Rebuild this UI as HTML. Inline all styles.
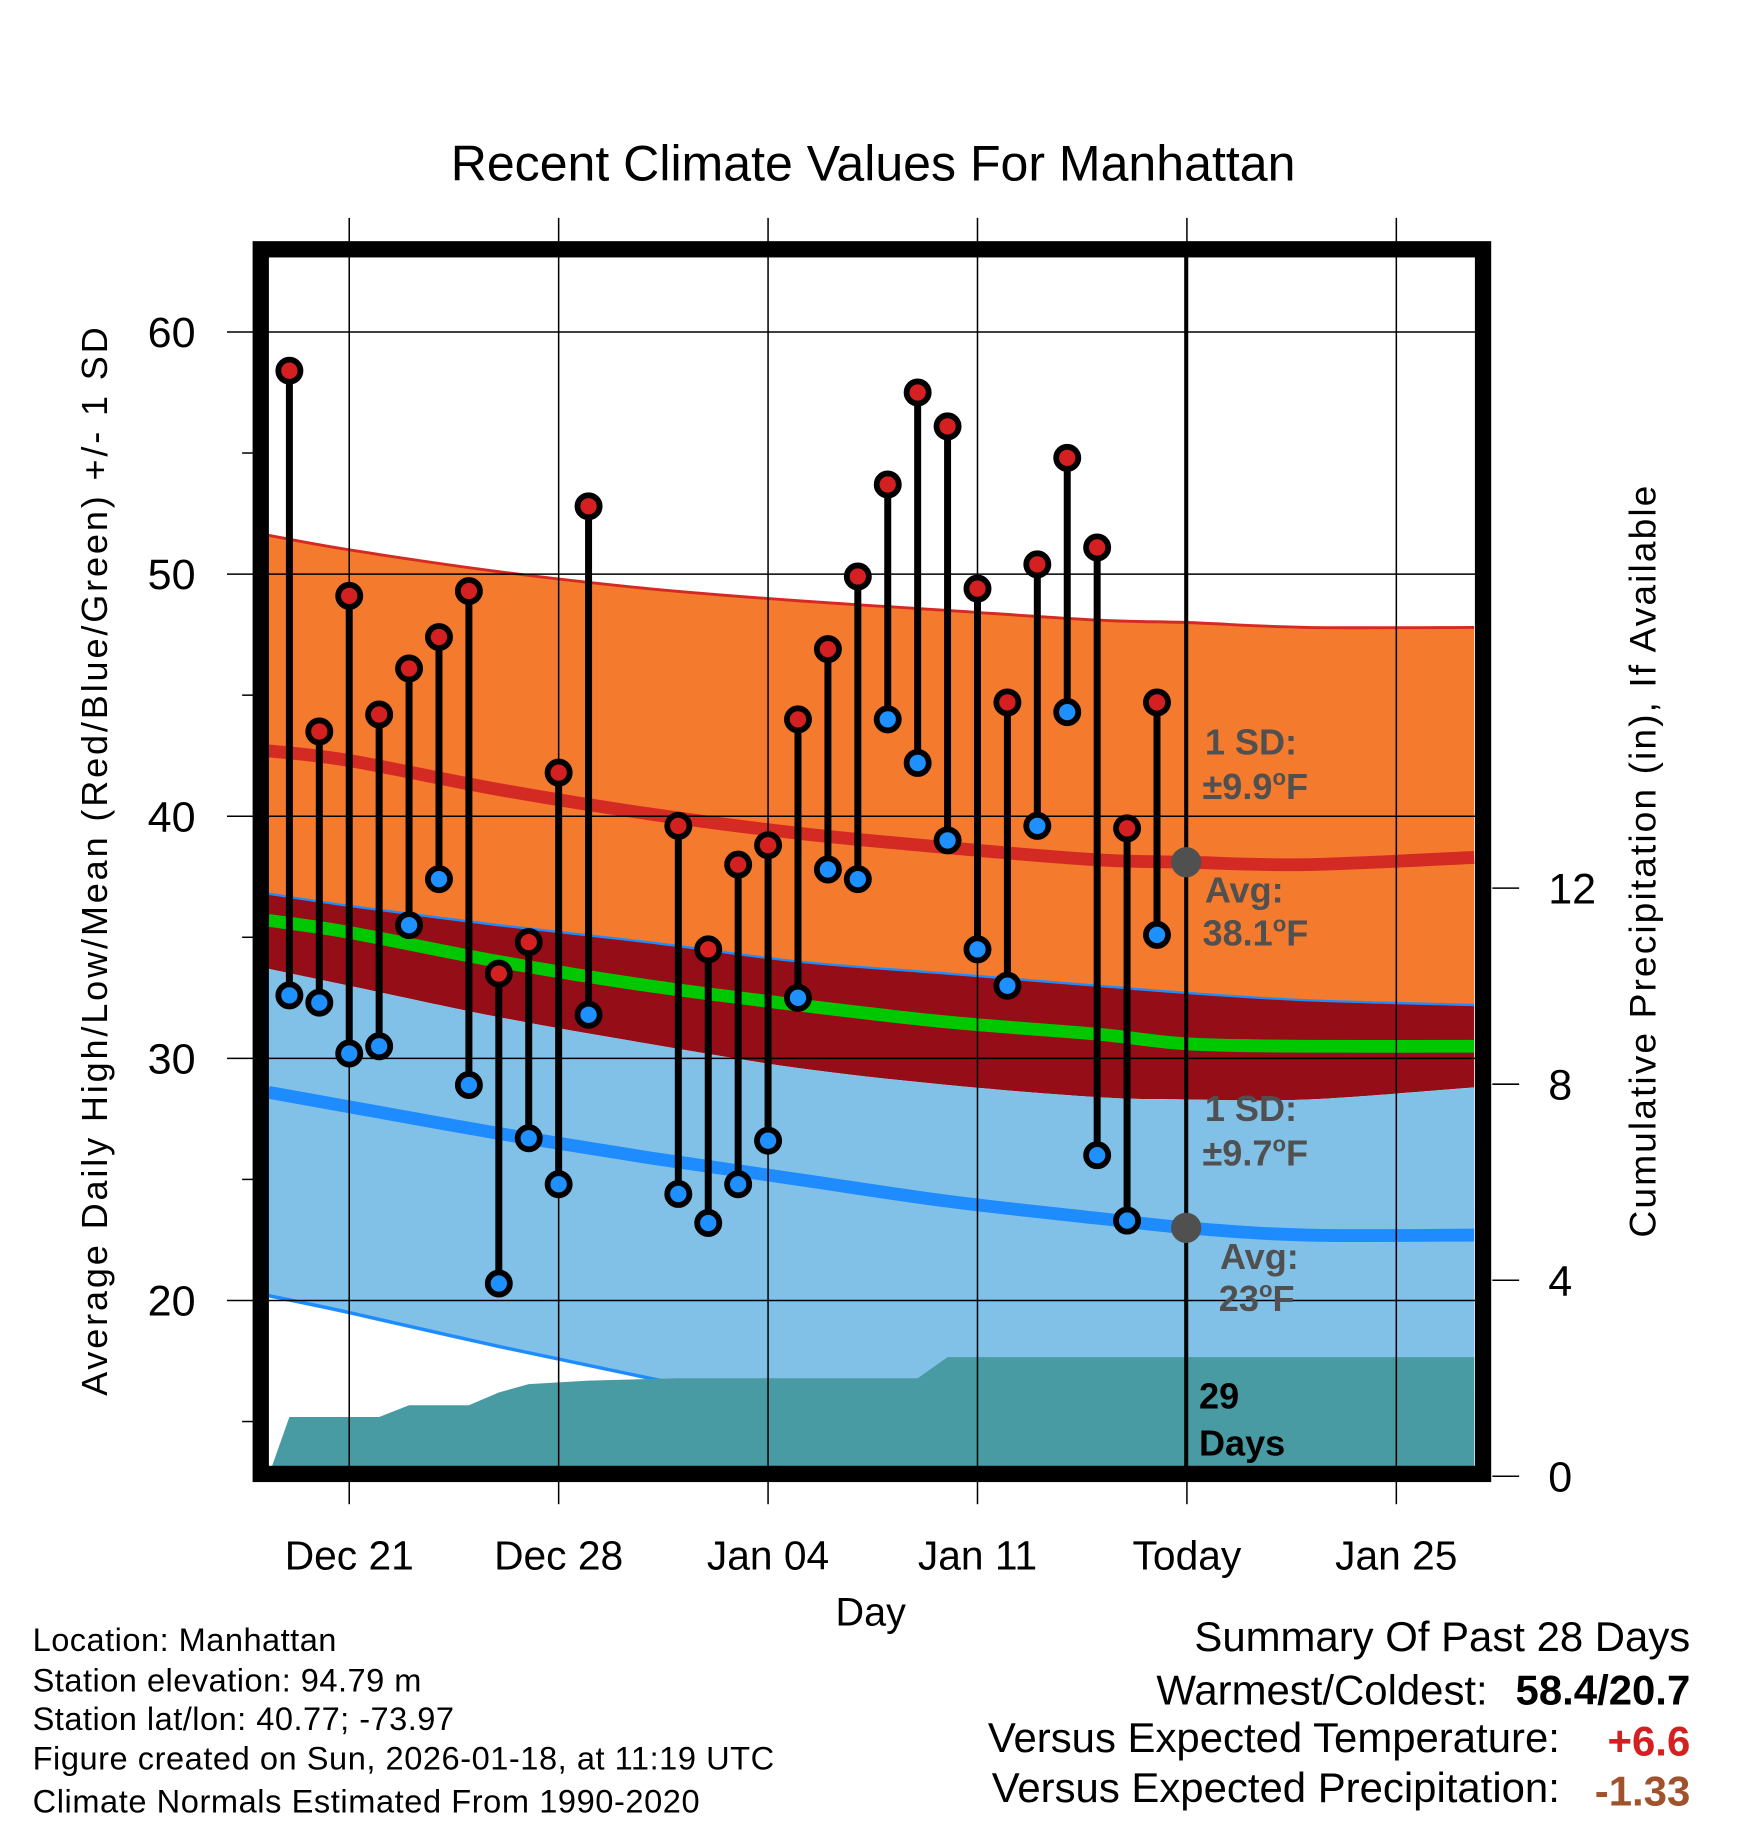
<!DOCTYPE html>
<html><head><meta charset="utf-8"><style>
html,body{margin:0;padding:0;background:#fff}
svg{display:block;font-family:"Liberation Sans",Arial,sans-serif}
</style></head><body>
<svg id="chart" width="1748" height="1828" viewBox="0 0 1501.6 1570" xmlns="http://www.w3.org/2000/svg">
<defs><clipPath id="plotclip"><rect x="230" y="220" width="1038" height="1040"/></clipPath></defs>
<g id="bands" clip-path="url(#plotclip)"></g>
<g id="axes"></g>
<g id="marks"></g>
<text x="750" y="155" font-size="43" text-anchor="middle">Recent Climate Values For Manhattan</text>
<text transform="translate(92,740) rotate(-90)" font-size="31" text-anchor="middle" textLength="918">Average Daily High/Low/Mean (Red/Blue/Green) +/- 1 SD</text>
<text transform="translate(1422,740) rotate(-90)" font-size="32" text-anchor="middle" textLength="646">Cumulative Precipitation (in), If Available</text>
<text x="748" y="1396" font-size="34" text-anchor="middle">Day</text>
<g font-size="28">
<text x="28" y="1418" textLength="261">Location: Manhattan</text>
<text x="28" y="1453" textLength="334">Station elevation: 94.79 m</text>
<text x="28" y="1486" textLength="362">Station lat/lon: 40.77; -73.97</text>
<text x="28" y="1520" textLength="637">Figure created on Sun, 2026-01-18, at 11:19 UTC</text>
<text x="28" y="1557" textLength="573">Climate Normals Estimated From 1990-2020</text>
</g>
<g font-size="36" text-anchor="end">
<text x="1452" y="1418">Summary Of Past 28 Days</text>
<text x="1278" y="1464">Warmest/Coldest:</text>
<text x="1452" y="1464" font-weight="bold">58.4/20.7</text>
<text x="1340" y="1505">Versus Expected Temperature:</text>
<text x="1452" y="1508" font-weight="bold" fill="#d42020">+6.6</text>
<text x="1340" y="1548">Versus Expected Precipitation:</text>
<text x="1452" y="1551" font-weight="bold" fill="#a0522d">-1.33</text>
</g>
</svg>
<script>
// data (day index: 0 = Dec 21)
const days=[-2,-1,0,1,2,3,4,5,6,7,8,11,12,13,14,15,16,17,18,19,20,21,22,23,24,25,26,27];
const highs=[58.4,43.5,49.1,44.2,46.1,47.4,49.3,33.5,34.8,41.8,52.8,39.6,34.5,38.0,38.8,44.0,46.9,49.9,53.7,57.5,56.1,49.4,44.7,50.4,54.8,51.1,39.5,44.7];
const lows=[32.6,32.3,30.2,30.5,35.5,37.4,28.9,20.7,26.7,24.8,31.8,24.4,23.2,24.8,26.6,32.5,37.8,37.4,44.0,42.2,39.0,34.5,33.0,39.6,44.3,26.0,23.3,35.1];
const nDays=[-2.7,0,5,10,15,20,25,28,32,37.6];
const highUpper=[51.6,51.0,50.1,49.4,48.9,48.5,48.1,48.0,47.8,47.8];
const highAvg=[42.7,42.3,41.1,40.1,39.3,38.7,38.2,38.1,38.0,38.3];
const highLower=[36.8,36.3,35.5,34.8,34.0,33.5,33.0,32.7,32.4,32.2];
const meanAvg=[35.7,35.2,34.0,33.0,32.2,31.5,31.0,30.6,30.5,30.5];
const lowUpper=[33.7,33.0,31.7,30.6,29.6,28.9,28.4,28.3,28.3,28.8];
const lowAvg=[28.6,28.0,26.9,25.9,25.0,24.1,23.4,23.0,22.7,22.7];
const lowLower=[20.2,19.5,18.1,16.8,15.5,14.5,13.8,13.3,13.0,13.0];
const precipDays=[-2.7,-2,1,2,4,5,6,8,11,19,20,37.6];
const precipVals=[0,1.21,1.21,1.45,1.45,1.71,1.88,1.95,2.0,2.0,2.43,2.43];
const yTicks=[20,30,40,50,60];
const y2Ticks=[0,4,8,12];
const xTickDays=[0,7,14,21,28,35];
const xTickLabels=["Dec 21","Dec 28","Jan 04","Jan 11","Today","Jan 25"];

const X=d=>300+d*25.7;
const Y=v=>285+(60-v)*20.8;
const Y2=p=>1268-p*42.1;
const NS="http://www.w3.org/2000/svg";
function mk(parent,tag,attrs,name){const e=document.createElementNS(NS,tag);for(const k in attrs)e.setAttribute(k,attrs[k]);


parent.appendChild(e);return e;}
const bands=document.getElementById('bands'),axes=document.getElementById('axes'),marks=document.getElementById('marks');
function smooth(arr,rev){
  let p=nDays.map((d,i)=>[X(d),Y(arr[i])]); if(rev)p=p.reverse();
  let s='';
  for(let i=0;i<p.length-1;i++){const p0=p[Math.max(0,i-1)],p1=p[i],p2=p[i+1],p3=p[Math.min(p.length-1,i+2)];
    const c1=[p1[0]+(p2[0]-p0[0])/6,p1[1]+(p2[1]-p0[1])/6],c2=[p2[0]-(p3[0]-p1[0])/6,p2[1]-(p3[1]-p1[1])/6];
    s+=' C'+c1[0].toFixed(1)+','+c1[1].toFixed(1)+' '+c2[0].toFixed(1)+','+c2[1].toFixed(1)+' '+p2[0].toFixed(1)+','+p2[1].toFixed(1);}
  return {start:p[0],segs:s};
}
function band(up,lo,fill,name){const a=smooth(up,false),b=smooth(lo,true);
  mk(bands,'path',{d:'M'+a.start.join(',')+a.segs+' L'+b.start.join(',')+b.segs+' Z',fill:fill},name);}
function line(arr,col,w,name){const a=smooth(arr,false);mk(bands,'path',{d:'M'+a.start.join(',')+a.segs,fill:'none',stroke:col,'stroke-width':w},name);}
band(highUpper,highLower,'#f47a2e','high-sd-band');
band(highLower,lowUpper,'#950d16','overlap-band');
band(lowUpper,lowLower,'#82c1e7','low-sd-band');
line(highUpper,'#d42a24',2.5,'high-upper-line');
line(highLower,'#1e8cff',2,'high-lower-line');
line(lowLower,'#1e8cff',3,'low-lower-line');
line(highAvg,'#d42a24',11,'high-avg-line');
line(meanAvg,'#00c800',11,'mean-avg-line');
line(lowAvg,'#1e8cff',11,'low-avg-line');
yTicks.forEach(v=>mk(bands,'line',{x1:230,x2:1268,y1:Y(v),y2:Y(v),stroke:'#000','stroke-width':1.3},'y-gridline'));
xTickDays.forEach(d=>mk(axes,'line',{x1:X(d),x2:X(d),y1:187,y2:1260,stroke:'#000','stroke-width':1.3},'x-gridline'));
let pp=[];precipDays.forEach((d,i)=>{pp.push(X(d).toFixed(1)+','+Y2(precipVals[i]).toFixed(1));});
pp.push(X(37.6)+',1262',X(-2.7)+',1262');
mk(bands,'polygon',{points:pp.join(' '),fill:'#489ba3'},'precip-area');
mk(axes,'line',{x1:1019,x2:1019,y1:220,y2:1262,stroke:'#000','stroke-width':3.5},'today-line');
mk(axes,'rect',{x:224,y:214,width:1050,height:1052,fill:'none',stroke:'#000','stroke-width':14},'plot-frame');
yTicks.forEach(v=>{mk(axes,'line',{x1:195,x2:218,y1:Y(v),y2:Y(v),stroke:'#000','stroke-width':1.3},'y-tick');
const t=mk(axes,'text',{x:168,y:Y(v)+13,'font-size':37,'text-anchor':'end'},'y-tick-label');t.textContent=v;});
[15,25,35,45,55].forEach(v=>mk(axes,'line',{x1:208,x2:218,y1:Y(v),y2:Y(v),stroke:'#000','stroke-width':1.3},'y-minor-tick'));
y2Ticks.forEach(p=>{mk(axes,'line',{x1:1282,x2:1305,y1:Y2(p),y2:Y2(p),stroke:'#000','stroke-width':1.3},'y2-tick');
const t=mk(axes,'text',{x:1330,y:Y2(p)+13,'font-size':37},'y2-tick-label');t.textContent=p;});
xTickDays.forEach((d,i)=>{mk(axes,'line',{x1:X(d),x2:X(d),y1:1272,y2:1292,stroke:'#000','stroke-width':1.3},'x-tick');
const t=mk(axes,'text',{x:X(d),y:1348,'font-size':35,'text-anchor':'middle'},'x-tick-label');t.textContent=xTickLabels[i];});
days.forEach((d,i)=>{mk(marks,'line',{x1:X(d),x2:X(d),y1:Y(highs[i]),y2:Y(lows[i]),stroke:'#000','stroke-width':6},'high-low-stem');});
days.forEach((d,i)=>{mk(marks,'circle',{cx:X(d),cy:Y(highs[i]),r:9.5,fill:'#d42020',stroke:'#000','stroke-width':5},'high-point');
mk(marks,'circle',{cx:X(d),cy:Y(lows[i]),r:9.5,fill:'#1e90ff',stroke:'#000','stroke-width':5},'low-point');});
mk(marks,'circle',{cx:1019,cy:Y(38.1),r:13,fill:'#505050'},'today-high-avg-dot');
mk(marks,'circle',{cx:1019,cy:Y(23),r:13,fill:'#505050'},'today-low-avg-dot');
function lbl(x,y,txt,deg,col,name){const t=mk(marks,'text',{x:x,y:y,'font-size':31,'font-weight':'bold',fill:col},name);
  t.appendChild(document.createTextNode(txt));
  if(deg){const a=document.createElementNS(NS,'tspan');a.setAttribute('font-size','19');a.setAttribute('dy','-12');a.textContent='o';t.appendChild(a);
    const b=document.createElementNS(NS,'tspan');b.setAttribute('dy','12');b.textContent='F';t.appendChild(b);}}
lbl(1035,648,'1 SD:',false,'#505050','high-sd-label');
lbl(1033,686,'±9.9',true,'#505050','high-sd-value');
lbl(1035,775,'Avg:',false,'#505050','high-avg-label');
lbl(1033,812,'38.1',true,'#505050','high-avg-value');
lbl(1035,963,'1 SD:',false,'#505050','low-sd-label');
lbl(1033,1001,'±9.7',true,'#505050','low-sd-value');
lbl(1048,1090,'Avg:',false,'#505050','low-avg-label');
lbl(1047,1126,'23',true,'#505050','low-avg-value');
lbl(1030,1210,'29',false,'#000','days-count');
lbl(1030,1250,'Days',false,'#000','days-label');
</script>
</body></html>
